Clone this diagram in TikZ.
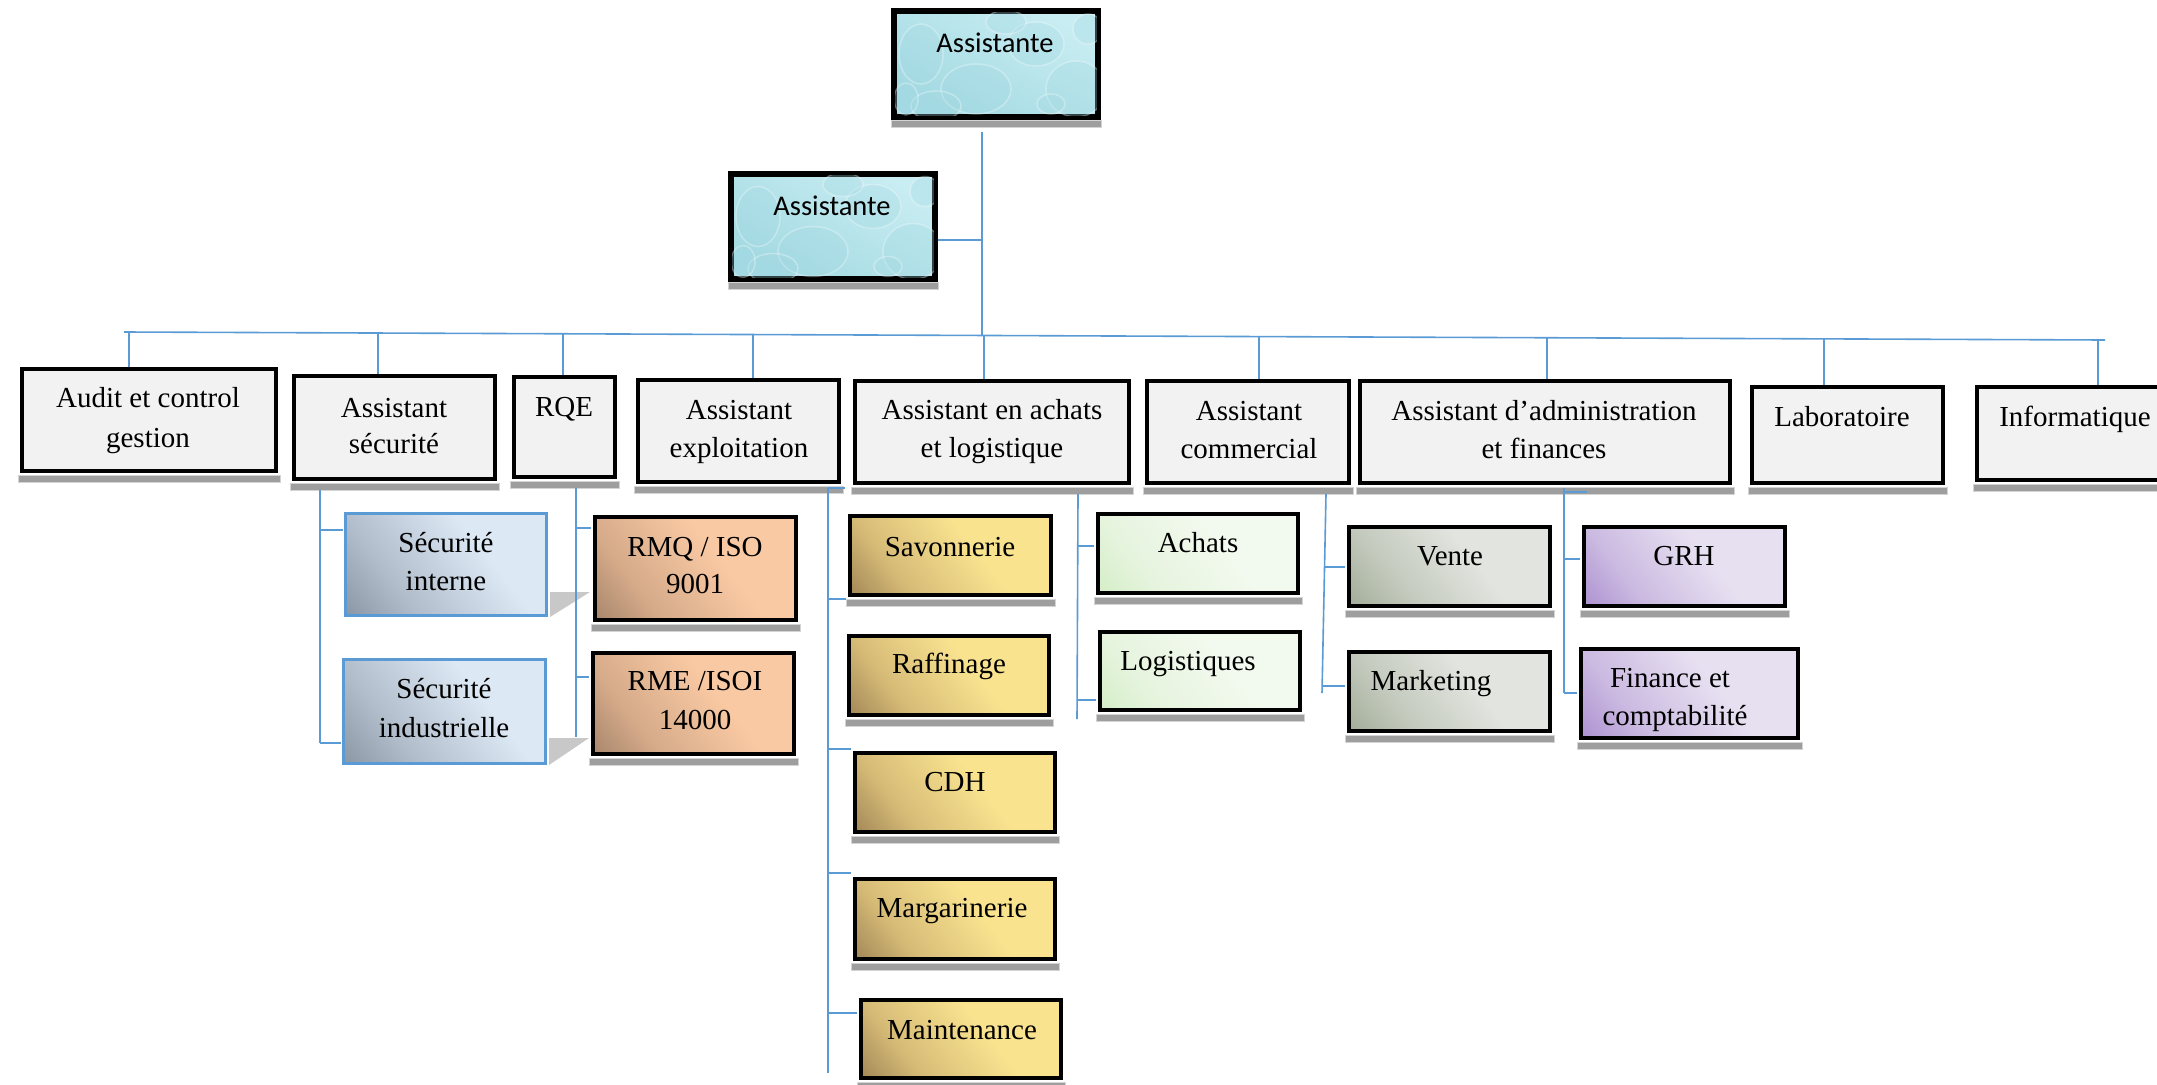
\documentclass[tikz,border=0pt]{standalone}
\usepackage{fontspec}
\setmainfont{Liberation Serif}
\newfontfamily\calibrifont{Carlito}
\definecolor{connblue}{HTML}{5B9BD5}
\definecolor{boxgray}{HTML}{F2F2F2}
\definecolor{barg}{HTML}{9E9E9E}
\definecolor{barl}{HTML}{D4D4D4}
\definecolor{trig}{HTML}{C8C8C8}
\definecolor{goldL}{HTML}{F9E38F}
\definecolor{goldM}{HTML}{D6BB77}
\definecolor{goldD}{HTML}{A38858}
\definecolor{salL}{HTML}{F9C9A3}
\definecolor{salM}{HTML}{D6AB8A}
\definecolor{salD}{HTML}{A8866C}
\definecolor{bluL}{HTML}{DCE8F4}
\definecolor{bluM}{HTML}{B0BCCA}
\definecolor{bluD}{HTML}{8C97A5}
\definecolor{grnL}{HTML}{F2F9EE}
\definecolor{grnM}{HTML}{E6F4DE}
\definecolor{grnD}{HTML}{D4EEC7}
\definecolor{ggL}{HTML}{E2E4DF}
\definecolor{ggM}{HTML}{C2C9BC}
\definecolor{ggD}{HTML}{A3AD99}
\definecolor{purL}{HTML}{E7E0F1}
\definecolor{purM}{HTML}{CBBAE1}
\definecolor{purD}{HTML}{AD92D1}
\definecolor{aquaL}{HTML}{C8EDF2}
\definecolor{aquaD}{HTML}{A3D9E2}
\pgfdeclareverticalshading{goldsh}{100bp}{color(0bp)=(goldD); color(15bp)=(goldD); color(32bp)=(goldM); color(58bp)=(goldL); color(100bp)=(goldL)}
\pgfdeclareverticalshading{salsh}{100bp}{color(0bp)=(salD); color(15bp)=(salD); color(32bp)=(salM); color(58bp)=(salL); color(100bp)=(salL)}
\pgfdeclareverticalshading{blush}{100bp}{color(0bp)=(bluD); color(15bp)=(bluD); color(33bp)=(bluM); color(62bp)=(bluL); color(100bp)=(bluL)}
\pgfdeclareverticalshading{grnsh}{100bp}{color(0bp)=(grnD); color(15bp)=(grnD); color(32bp)=(grnM); color(58bp)=(grnL); color(100bp)=(grnL)}
\pgfdeclareverticalshading{ggsh}{100bp}{color(0bp)=(ggD); color(15bp)=(ggD); color(32bp)=(ggM); color(58bp)=(ggL); color(100bp)=(ggL)}
\pgfdeclareverticalshading{pursh}{100bp}{color(0bp)=(purD); color(15bp)=(purD); color(32bp)=(purM); color(58bp)=(purL); color(100bp)=(purL)}
\newcommand\boxbar[1]{\path[sbar] ([xshift=-2pt,yshift=-2pt]#1.south west) rectangle ([xshift=2pt,yshift=-9pt]#1.south east);}
\newcommand\bubbles[1]{%
  \begin{scope}
    \clip ([shift={(2pt,2pt)}]#1.south west) rectangle ([shift={(-2pt,-2pt)}]#1.north east);
    \begin{scope}[shift={(#1.center)}]
      \draw[bub] (-75,-10) ellipse [x radius=22, y radius=30];
      \draw[bub] (-20,25) ellipse [x radius=35, y radius=25];
      \draw[bub] (40,-20) ellipse [x radius=28, y radius=22];
      \draw[bub] (80,25) ellipse [x radius=30, y radius=28];
      \draw[bub] (-60,42) ellipse [x radius=25, y radius=15];
      \draw[bub] (10,-42) ellipse [x radius=20, y radius=12];
      \draw[bub] (92,-35) ellipse [x radius=15, y radius=15];
      \draw[bub] (-90,35) ellipse [x radius=12, y radius=16];
      \draw[bub] (55,40) ellipse [x radius=14, y radius=10];
    \end{scope}
  \end{scope}}
\begin{document}
\begin{tikzpicture}[x=1pt,y=-1pt,
  font=\fontsize{29}{34}\selectfont,
  conn/.style={draw=connblue,line width=1.6pt},
  blk/.style={rectangle,draw=black,line width=4pt,inner sep=0pt},
  plain/.style={blk,fill=boxgray},
  gold/.style={blk,shade,shading=goldsh,shading angle=-52},
  salmon/.style={blk,shade,shading=salsh,shading angle=-52},
  bluebox/.style={blk,draw=connblue,line width=3pt,shade,shading=blush,shading angle=-52},
  green/.style={blk,shade,shading=grnsh,shading angle=-52},
  graygreen/.style={blk,shade,shading=ggsh,shading angle=-52},
  purple/.style={blk,shade,shading=pursh,shading angle=-52},
  aqua/.style={blk,top color=aquaL,bottom color=aquaD,shading angle=-30},
  bub/.style={draw=white,draw opacity=.3,line width=1.5pt,fill=aquaD,fill opacity=.3},
  lbl/.style={anchor=base,inner sep=0pt,outer sep=0pt},
  sbar/.style={fill=barg,draw=barl,line width=1pt},
  trishadow/.style={fill=trig}
]
\useasboundingbox (0,0) rectangle (2157,1084);
\clip (0,0) rectangle (2157,1084);
\fill[white] (0,0) rectangle (2157,1084);

% ---------- top assistants ----------
\node[aqua,minimum width=202,minimum height=104] (asst1) at (996,64) {};
\bubbles{asst1}
\draw[line width=4pt] (asst1.south west) rectangle (asst1.north east);
\boxbar{asst1}
\node[lbl,font=\calibrifont\fontsize{28.5}{34}\selectfont] (tasst1) at (995,52) {Assistante};

\node[aqua,minimum width=202,minimum height=103] (asst2) at (833,226.5) {};
\bubbles{asst2}
\draw[line width=4pt] (asst2.south west) rectangle (asst2.north east);
\boxbar{asst2}
\node[lbl,font=\calibrifont\fontsize{28.5}{34}\selectfont] (tasst2) at (832,215) {Assistante};

% ---------- level 1 boxes ----------
\node[plain,minimum width=254,minimum height=102] (audit) at (149,420) {};
\node[plain,minimum width=201,minimum height=103] (secu) at (394.5,427.5) {};
\node[plain,minimum width=101,minimum height=100] (rqe) at (564.5,427) {};
\node[plain,minimum width=201,minimum height=102] (expl) at (738.5,431) {};
\node[plain,minimum width=274,minimum height=102] (achl) at (992,432) {};
\node[plain,minimum width=202,minimum height=102] (comm) at (1248,432) {};
\node[plain,minimum width=370,minimum height=102] (admin) at (1545,432) {};
\node[plain,minimum width=191,minimum height=96] (labo) at (1847.5,435) {};
\node[plain,minimum width=196,minimum height=93] (info) at (2075,433.5) {};
\foreach \n in {audit,secu,rqe,expl,achl,comm,admin,labo,info}{\boxbar{\n}}

\node[lbl] (taudita) at (148,407) {Audit et control};
\node[lbl] (tauditb) at (148,447) {gestion};
\node[lbl] (tsecua) at (394,417) {Assistant};
\node[lbl] (tsecub) at (394,453) {sécurité};
\node[lbl] (trqe) at (564,416) {RQE};
\node[lbl] (texpla) at (739,419) {Assistant};
\node[lbl] (texplb) at (739,457) {exploitation};
\node[lbl] (tachla) at (992,419) {Assistant en achats};
\node[lbl] (tachlb) at (992,457) {et logistique};
\node[lbl] (tcomma) at (1249,420) {Assistant};
\node[lbl] (tcommb) at (1249,458) {commercial};
\node[lbl] (tadmina) at (1544,420) {Assistant d’administration};
\node[lbl] (tadminb) at (1544,458) {et finances};
\node[lbl] (tlabo) at (1842,426) {Laboratoire};
\node[lbl] (tinfo) at (2075,426) {Informatique};

% ---------- sub boxes ----------
\fill[trishadow] (550,617) -- (590,592) -- (550,592) -- cycle;
\fill[trishadow] (549,765) -- (589,738) -- (549,738) -- cycle;
\node[bluebox,minimum width=201,minimum height=102] (si) at (446,564.5) {};
\node[bluebox,minimum width=202,minimum height=104] (sind) at (444.5,711.5) {};

\node[salmon,minimum width=201,minimum height=103] (rmq) at (695.5,568.5) {};
\node[salmon,minimum width=201,minimum height=101] (rme) at (693.5,703.5) {};

\node[gold,minimum width=201,minimum height=79] (savon) at (950.5,555.5) {};
\node[gold,minimum width=200,minimum height=79] (raff) at (949,675.5) {};
\node[gold,minimum width=200,minimum height=79] (cdh) at (955,792.5) {};
\node[gold,minimum width=200,minimum height=80] (marg) at (955,919) {};
\node[gold,minimum width=200,minimum height=78] (maint) at (961,1039) {};

\node[green,minimum width=200,minimum height=79] (achat) at (1198,553.5) {};
\node[green,minimum width=200,minimum height=78] (logi) at (1200,671) {};

\node[graygreen,minimum width=201,minimum height=79] (vente) at (1449.5,566.5) {};
\node[graygreen,minimum width=201,minimum height=79] (mkt) at (1449.5,691.5) {};

\node[purple,minimum width=201,minimum height=79] (grh) at (1684.5,566.5) {};
\node[purple,minimum width=217,minimum height=89] (fin) at (1689.5,693.5) {};

\foreach \n in {rmq,rme,savon,raff,cdh,marg,maint,achat,logi,vente,mkt,grh,fin}{\boxbar{\n}}

\node[lbl] (tsia) at (446,552) {Sécurité};
\node[lbl] (tsib) at (446,590) {interne};
\node[lbl] (tsinda) at (444,698) {Sécurité};
\node[lbl] (tsindb) at (444,737) {industrielle};
\node[lbl] (trmqa) at (695,556) {RMQ / ISO};
\node[lbl] (trmqb) at (695,593) {9001};
\node[lbl] (trmea) at (695,690) {RME /ISOI};
\node[lbl] (trmeb) at (695,729) {14000};
\node[lbl] (tsavon) at (950,556) {Savonnerie};
\node[lbl] (traff) at (949,673) {Raffinage};
\node[lbl] (tcdh) at (955,791) {CDH};
\node[lbl] (tmarg) at (952,917) {Margarinerie};
\node[lbl] (tmaint) at (962,1039) {Maintenance};
\node[lbl] (tachat) at (1198,552) {Achats};
\node[lbl] (tlogi) at (1188,670) {Logistiques};
\node[lbl] (tvente) at (1450,565) {Vente};
\node[lbl] (tmkt) at (1431,690) {Marketing};
\node[lbl] (tgrh) at (1684,565) {GRH};
\node[lbl] (tfina) at (1670,687) {Finance et};
\node[lbl] (tfinb) at (1675,725) {comptabilité};

% ---------- connectors ----------
\coordinate (trunkTop) at (982,132);
\coordinate (trunkBot) at (982,335.5);
\draw[conn] (trunkTop) -- (trunkBot);
\draw[conn] ([xshift=2pt]asst2.east |- 0,240) -- (trunkTop |- 0,240);
\coordinate (busL) at (124,332);
\coordinate (busR) at (2105,340);
\draw[conn] (busL) -- (busR);
\draw[conn] (129,332) -- (audit.north -| 129,0);
\draw[conn] (378,333) -- (secu.north -| 378,0);
\draw[conn] (563,333.8) -- (rqe.north -| 563,0);
\draw[conn] (753,334.5) -- (expl.north -| 753,0);
\draw[conn] (984,335.5) -- (achl.north -| 984,0);
\draw[conn] (1259,336.6) -- (comm.north -| 1259,0);
\draw[conn] (1547,337.7) -- (admin.north -| 1547,0);
\draw[conn] (1824,338.9) -- (labo.north -| 1824,0);
\draw[conn] (2098,340) -- (info.north -| 2098,0);

% securite
\coordinate (secTop) at (320,490);
\coordinate (secBot) at (320,743);
\draw[conn] (secTop) -- (secBot);
\draw[conn] (320,530) -- ([xshift=-1.5pt]si.west |- 0,530);
\draw[conn] (secBot) -- ([xshift=-1.5pt]sind.west |- 0,743);
% RQE
\coordinate (rqeTop) at (576,488);
\coordinate (rqeBot) at (576,737);
\draw[conn] (rqeTop) -- (rqeBot);
\draw[conn] (576,528) -- ([xshift=-2pt]rmq.west |- 0,528);
\draw[conn] (576,677) -- ([xshift=-2pt]rme.west |- 0,677);
% exploitation
\coordinate (exTop) at (828,488);
\coordinate (exBot) at (828,1073);
\draw[conn] (exTop) -- (exBot);
\draw[conn] (exTop) -- (845,488);
\draw[conn] (828,599) -- ([xshift=-2pt]savon.west |- 0,599);
\draw[conn] (828,749) -- ([xshift=-2pt]cdh.west |- 0,749);
\draw[conn] (828,873) -- ([xshift=-2pt]marg.west |- 0,873);
\draw[conn] (828,1013) -- ([xshift=-2pt]maint.west |- 0,1013);
% achats
\coordinate (acTop) at (1078,494);
\coordinate (acBot) at (1077,719);
\draw[conn] (acTop) -- (acBot);
\draw[conn] (1078,546) -- ([xshift=-2pt]achat.west |- 0,546);
\draw[conn] (1077,700) -- ([xshift=-2pt]logi.west |- 0,700);
% commercial
\coordinate (coTop) at (1326,494);
\coordinate (coBot) at (1322,693);
\draw[conn] (coTop) -- (coBot);
\draw[conn] (1325,567) -- ([xshift=-2pt]vente.west |- 0,567);
\draw[conn] (1323,686) -- ([xshift=-2pt]mkt.west |- 0,686);
% administration
\coordinate (adTop) at (1564,488);
\coordinate (adBot) at (1564,693);
\draw[conn] (adTop) -- (adBot);
\draw[conn] (1564,492) -- (1587,492);
\draw[conn] (1564,559) -- ([xshift=-2pt]grh.west |- 0,559);
\draw[conn] (adBot) -- ([xshift=-2pt]fin.west |- 0,693);
\end{tikzpicture}
\end{document}
